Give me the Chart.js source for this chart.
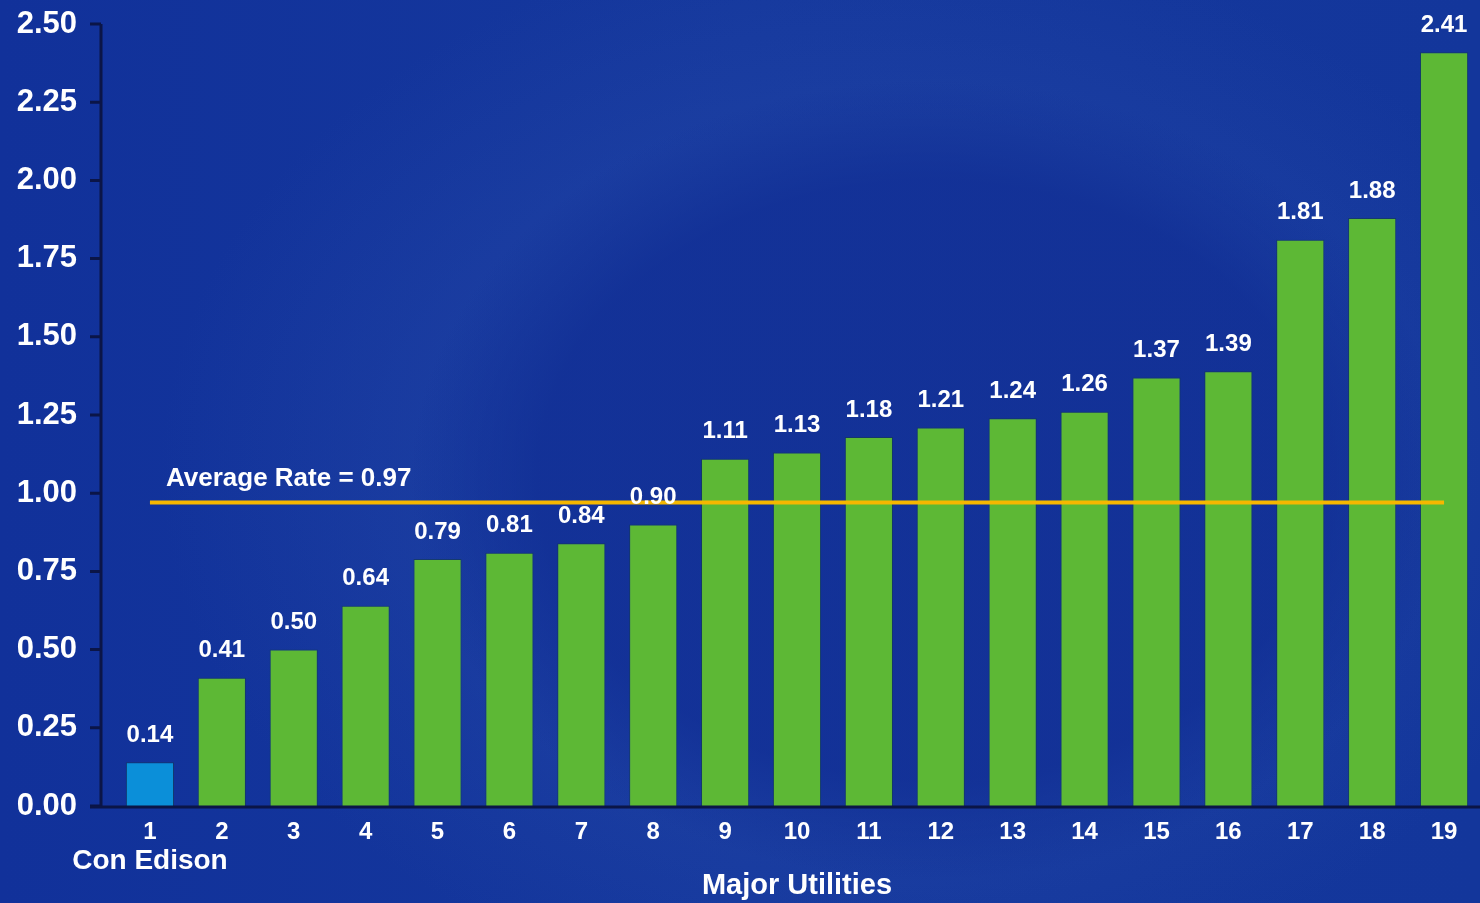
<!DOCTYPE html>
<html>
<head>
<meta charset="utf-8">
<script src="https://cdn.jsdelivr.net/npm/chart.js@4/dist/chart.umd.min.js"></script>
<style>
  html, body { margin: 0; padding: 0; }
  body {
    width: 1480px; height: 903px; overflow: hidden;
    background:
      radial-gradient(ellipse 520px 400px at 930px 480px, rgba(14,42,145,0.6) 0%, rgba(14,42,145,0.6) 75%, rgba(14,42,145,0) 100%),
      radial-gradient(ellipse 720px 540px at 880px 470px, rgba(40,75,170,0.3) 65%, rgba(40,75,170,0) 100%),
      linear-gradient(90deg, #11319a 0%, #15389d 50%, #13369b 100%);
  }
  #wrap { position: relative; width: 1480px; height: 903px; }
</style>
</head>
<body>
<div id="wrap"><canvas id="chart"></canvas></div>
<script>
const utilities = ['1', '2', '3', '4', '5', '6', '7', '8', '9', '10', '11', '12', '13', '14', '15', '16', '17', '18', '19'];
const rates = [0.14, 0.41, 0.50, 0.64, 0.79, 0.81, 0.84, 0.90, 1.11, 1.13, 1.18, 1.21, 1.24, 1.26, 1.37, 1.39, 1.81, 1.88, 2.41];
const averageRate = 0.97;
const highlightName = 'Con Edison';

const green = '#5db835';
const blue = '#0b8fd9';
const font = '"Liberation Sans", Arial, sans-serif';

const extras = {
    id: 'extras',
    beforeDatasetsDraw(chart) {
        const ctx = chart.ctx;
        const area = chart.chartArea;
        const y = chart.scales.y;
        ctx.save();
        ctx.strokeStyle = '#0b1547';
        ctx.lineWidth = 3;
        // y axis line and ticks
        ctx.beginPath();
        ctx.moveTo(area.left - 13, area.top);
        ctx.lineTo(area.left - 13, area.bottom);
        y.ticks.forEach(t => {
            const py = y.getPixelForValue(t.value);
            ctx.moveTo(area.left - 24, py);
            ctx.lineTo(area.left - 13, py);
        });
        ctx.stroke();
        ctx.restore();
    },
    afterDatasetsDraw(chart) {
        const ctx = chart.ctx;
        const area = chart.chartArea;
        const y = chart.scales.y;
        const bars = chart.getDatasetMeta(0).data;
        ctx.save();
        // x axis line
        ctx.strokeStyle = '#0b1547';
        ctx.lineWidth = 3;
        ctx.beginPath();
        ctx.moveTo(area.left - 24, area.bottom + 1);
        ctx.lineTo(area.right, area.bottom + 1);
        ctx.stroke();

        ctx.fillStyle = '#ffffff';
        ctx.textAlign = 'center';
        ctx.textBaseline = 'middle';
        ctx.font = 'bold 24px ' + font;
        bars.forEach((b, i) => {
            ctx.fillText(rates[i].toFixed(2), b.x, b.y - 27);
        });

        ctx.font = 'bold 26px ' + font;
        ctx.textAlign = 'left';
        ctx.fillText('Average Rate = ' + averageRate.toFixed(2), bars[0].x + 16, y.getPixelForValue(averageRate) - 24);

        ctx.font = 'bold 28px ' + font;
        ctx.textAlign = 'center';
        ctx.fillText(highlightName, bars[0].x, area.bottom + 55);
        ctx.restore();
    }
};

new Chart(document.getElementById('chart'), {
    data: {
        labels: utilities,
        datasets: [{
            type: 'bar',
            order: 1,
            data: rates,
            backgroundColor: rates.map((v, i) => i === 0 ? blue : green),
            borderColor: 'rgba(20,60,70,0.55)',
            borderWidth: 1,
            barPercentage: 0.67,
            categoryPercentage: 1
        }, {
            type: 'line',
            order: 0,
            data: utilities.map(() => averageRate),
            borderColor: '#f6b700',
            borderWidth: 4,
            pointRadius: 0,
            fill: false
        }]
    },
    options: {
        responsive: true,
        maintainAspectRatio: false,
        animation: false,
        layout: { padding: { top: 24, right: 0, bottom: 0, left: 0 } },
        plugins: { legend: { display: false }, tooltip: { enabled: false } },
        scales: {
            x: {
                grid: { display: false, drawTicks: false },
                border: { display: false },
                ticks: { color: '#ffffff', font: { family: font, size: 24, weight: 'bold' }, padding: 12, maxRotation: 0 },
                title: { display: true, text: 'Major Utilities', color: '#ffffff', font: { family: font, size: 29, weight: 'bold' }, padding: { top: 0, bottom: 0 } },
                afterFit(scale) { scale.height = 97; }
            },
            y: {
                min: 0,
                max: 2.5,
                grid: { display: false, drawTicks: true, tickLength: 37 },
                border: { display: false },
                ticks: {
                    stepSize: 0.25,
                    color: '#ffffff',
                    padding: 0,
                    font: { family: font, size: 31, weight: 'bold' },
                    callback: v => v.toFixed(2)
                },
                afterFit(scale) { scale.width = 114; }
            }
        }
    },
    plugins: [extras]
});
</script>
</body>
</html>
